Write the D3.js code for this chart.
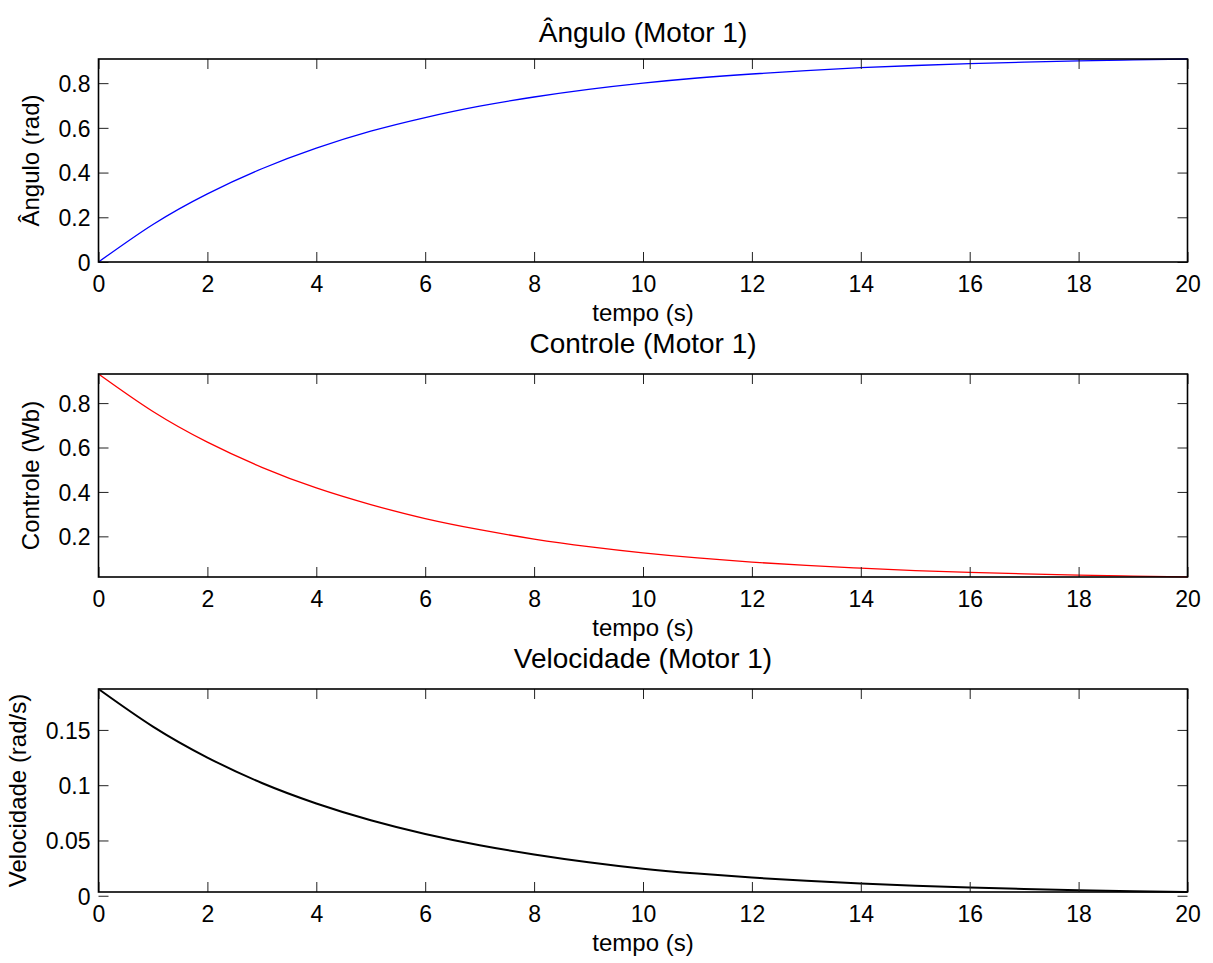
<!DOCTYPE html>
<html>
<head>
<meta charset="utf-8">
<script src="https://cdn.jsdelivr.net/npm/d3@7"></script>
<style>
  body { margin: 0; background: #fff; }
  text { font-family: "Liberation Sans", Arial, Helvetica, sans-serif; fill: #000; }
</style>
</head>
<body>
<div id="chart"></div>
<script>
// time samples (s)
var tempo = [0,1,2,3,4,5,6,7,8,9,10,11,12,13,14,15,16,17,18,19,20];

// values
var angulo = [0,0.168,0.305,0.417,0.509,0.585,0.646,0.697,0.738,0.772,0.800,0.823,0.841,0.856,0.869,0.879,0.887,0.894,0.900,0.904,0.908];
var controle = [0.931,0.762,0.624,0.511,0.418,0.343,0.280,0.230,0.188,0.154,0.126,0.103,0.084,0.069,0.057,0.046,0.038,0.031,0.025,0.021,0.017];
var velocidade = [0.187,0.153,0.125,0.102,0.0835,0.0683,0.0559,0.0457,0.0374,0.0303,0.0245,0.0201,0.0165,0.0135,0.0111,0.0091,0.0075,0.0061,0.0050,0.0041,0.0034];

var xTicks = [0,2,4,6,8,10,12,14,16,18,20];

var panels = [
  {title: "Ângulo (Motor 1)", ylabel: "Ângulo (rad)", values: angulo, color: "#0000ff", width: 1.3,
   yTicks: [0,0.2,0.4,0.6,0.8], top: 59, titleY: 42},
  {title: "Controle (Motor 1)", ylabel: "Controle (Wb)", values: controle, color: "#ff0000", width: 1.3,
   yTicks: [0.2,0.4,0.6,0.8], top: 374, titleY: 353},
  {title: "Velocidade (Motor 1)", ylabel: "Velocidade (rad/s)", values: velocidade, color: "#000000", width: 2,
   yTicks: [0,0.05,0.1,0.15], top: 689, titleY: 668}
];

var width = 1213, height = 963;
var left = 98.5, right = 1187.5, plotH = 203;

var svg = d3.select("#chart").append("svg")
    .attr("width", width)
    .attr("height", height);

var x = d3.scaleLinear().domain([0, 20]).range([left, right]);
var fmt = d3.format("~g");

panels.forEach(function(p) {
    var top = p.top, bottom = p.top + plotH;
    var y = d3.scaleLinear().domain(d3.extent(p.values)).range([bottom, top]);
    var g = svg.append("g");

    // line
    var pts = tempo.map(function(t, i) { return [t, p.values[i]]; });
    g.append("path")
        .datum(pts)
        .attr("fill", "none")
        .attr("stroke", p.color)
        .attr("stroke-width", p.width)
        .attr("d", d3.line().curve(d3.curveNatural)
            .x(function(d) { return x(d[0]); })
            .y(function(d) { return y(d[1]); }));

    // ticks on all four sides, pointing inwards
    var xb = g.append("g").attr("transform", "translate(0," + bottom + ")")
        .call(d3.axisBottom(x).tickValues(xTicks).tickSizeInner(-10).tickSizeOuter(0).tickFormat(fmt));
    var xt = g.append("g").attr("transform", "translate(0," + top + ")")
        .call(d3.axisTop(x).tickValues(xTicks).tickSizeInner(-10).tickSizeOuter(0).tickFormat(""));
    var yl = g.append("g").attr("transform", "translate(" + left + ",0)")
        .call(d3.axisLeft(y).tickValues(p.yTicks).tickSizeInner(-10).tickSizeOuter(0).tickFormat(fmt));
    var yr = g.append("g").attr("transform", "translate(" + right + ",0)")
        .call(d3.axisRight(y).tickValues(p.yTicks).tickSizeInner(-10).tickSizeOuter(0).tickFormat(""));

    [xb, xt, yl, yr].forEach(function(a) {
        a.select(".domain").remove();
        a.selectAll(".tick line").attr("stroke", "#222").attr("stroke-width", 1);
    });

    xb.selectAll(".tick text")
        .attr("y", 30).attr("dy", null)
        .style("font-size", "23px").attr("fill", "#000");
    yl.selectAll(".tick text")
        .attr("x", -8).attr("dy", "0.36em")
        .style("font-size", "23px").attr("fill", "#000");

    // box
    g.append("rect")
        .attr("x", left).attr("y", top)
        .attr("width", right - left).attr("height", plotH)
        .attr("fill", "none").attr("stroke", "#000").attr("stroke-width", 1.6);

    // title
    g.append("text")
        .attr("x", (left + right) / 2).attr("y", p.titleY)
        .attr("text-anchor", "middle")
        .style("font-size", "28px")
        .text(p.title);

    // x label
    g.append("text")
        .attr("x", (left + right) / 2).attr("y", bottom + 59)
        .attr("text-anchor", "middle")
        .style("font-size", "24px")
        .text("tempo (s)");

    // y label, left of the widest tick label
    var minX = d3.min(yl.selectAll(".tick text").nodes(), function(n) {
        return n.getBBox().x;
    });
    var lx = left + minX - 20;
    g.append("text")
        .attr("transform", "translate(" + lx + "," + (top + plotH / 2) + ") rotate(-90)")
        .attr("text-anchor", "middle")
        .style("font-size", "24px")
        .text(p.ylabel);
});
</script>
</body>
</html>
